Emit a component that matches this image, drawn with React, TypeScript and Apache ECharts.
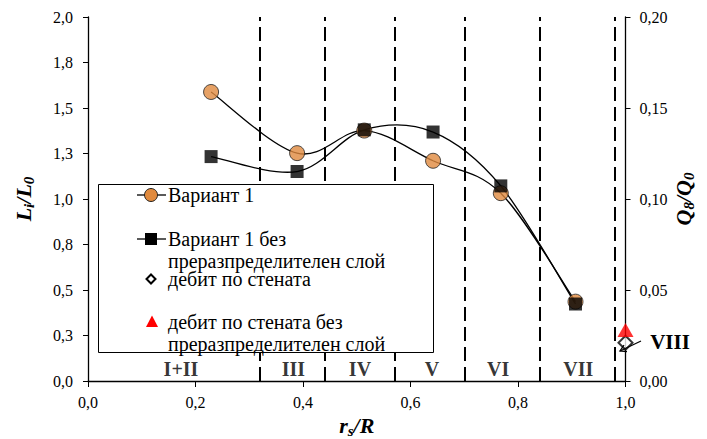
import { useEffect, useRef } from "react";
import * as echarts from "echarts";

// r_s/R positions of the measured sections
const xVariant = [0.229, 0.389, 0.514, 0.642, 0.768, 0.907];
// L_i/L_0 for "Вариант 1"
const yVariant = [1.588, 1.252, 1.376, 1.21, 1.032, 0.436];
// L_i/L_0 for "Вариант 1 без преразпределителен слой"
const yVariantNoLayer = [1.233, 1.151, 1.38, 1.368, 1.072, 0.423];
// Q_8/Q_0 wall flow at r_s/R = 1
const xWall = [1.0];
const qWall = [0.021];
const qWallNoLayer = [0.028];

// zone boundaries (dashed) and zone captions
const zoneBounds = [0.318, 0.443, 0.572, 0.7045, 0.844, 0.977];
const zoneNames = ["I+II", "III", "IV", "V", "VI", "VII"];
const zoneCenters = [0.173, 0.382, 0.506, 0.64, 0.763, 0.912];
const zoneLabelLevel = 0.066;

const xTickLabels = ["0,0", "0,2", "0,4", "0,6", "0,8", "1,0"];
const leftTickLabels = ["0,0", "0,3", "0,5", "0,8", "1,0", "1,3", "1,5", "1,8", "2,0"];
const rightTickLabels = ["0,00", "0,05", "0,10", "0,15", "0,20"];

const seriesNames = [
  "Вариант 1",
  "Вариант 1 без преразпределителен слой",
  "дебит по стената",
  "дебит по стената без преразпределителен слой",
];

const SERIF = "Liberation Serif";
const ORANGE = "#E08A3E";

// Smoothed curve through the points (Catmull-Rom style Bezier segments),
// positioned with the chart's own axis scales via api.coord.
function smoothCurve(name: string, xs: number[], ys: number[], z: number) {
  return {
    name,
    type: "custom",
    coordinateSystem: "cartesian2d",
    silent: true,
    z,
    encode: { x: 0, y: 1 },
    data: xs.slice(0, -1).map((x, i) => [x, ys[i]]),
    renderItem: (params: any, api: any) => {
      const i = params.dataIndex;
      const pt = (k: number) => {
        const j = Math.max(0, Math.min(xs.length - 1, k));
        return api.coord([xs[j], ys[j]]);
      };
      const p0 = pt(i - 1);
      const p1 = pt(i);
      const p2 = pt(i + 1);
      const p3 = pt(i + 2);
      const t = 1 / 6;
      return {
        type: "bezierCurve",
        shape: {
          x1: p1[0],
          y1: p1[1],
          x2: p2[0],
          y2: p2[1],
          cpx1: p1[0] + (p2[0] - p0[0]) * t,
          cpy1: p1[1] + (p2[1] - p0[1]) * t,
          cpx2: p2[0] - (p3[0] - p1[0]) * t,
          cpy2: p2[1] - (p3[1] - p1[1]) * t,
        },
        style: { stroke: "#000", lineWidth: 1.3, fill: null },
      };
    },
  };
}

export default function App() {
  const ref = useRef<HTMLDivElement>(null);

  useEffect(() => {
    if (!ref.current) return;
    const chart = echarts.init(ref.current, undefined, { renderer: "svg" });

    const tickText = { fontFamily: SERIF, fontSize: 16, color: "#000" };
    const nameRich = {
      a: { fontFamily: SERIF, fontSize: 22, fontWeight: "bold", fontStyle: "italic", color: "#000", lineHeight: 26, verticalAlign: "middle" },
      s: { fontFamily: SERIF, fontSize: 15, fontWeight: "bold", fontStyle: "italic", color: "#000", lineHeight: 8, verticalAlign: "bottom" },
    };

    const legendText = (x: number, y: number, text: string) => ({
      type: "text",
      z: 101,
      x,
      y,
      style: { text, fontFamily: SERIF, fontSize: 20, fill: "#000", verticalAlign: "middle", align: "left" },
    });

    const option: any = {
      animation: false,
      grid: { left: 88, right: 81.5, top: 17, bottom: 58, outerBoundsMode: "none", containLabel: false },
      xAxis: {
        type: "value",
        min: 0,
        max: 1,
        interval: 0.2,
        name: "{a|r}{s|s}{a|/R}",
        nameLocation: "middle",
        nameGap: 30,
        nameTextStyle: { rich: nameRich },
        axisLine: { lineStyle: { color: "#000", width: 1.3 } },
        axisTick: { show: true, length: 6, lineStyle: { color: "#000" } },
        axisLabel: { ...tickText, margin: 13, formatter: (v: number) => xTickLabels[Math.round(v / 0.2)] ?? "" },
        splitLine: { show: false },
      },
      yAxis: [
        {
          type: "value",
          min: 0,
          max: 2,
          interval: 0.25,
          name: "{a|L}{s|i}{a|/L}{s|0}",
          nameLocation: "middle",
          nameRotate: 90,
          nameGap: 52,
          nameTextStyle: { rich: nameRich },
          axisLine: { show: true, lineStyle: { color: "#000", width: 1.3 } },
          axisTick: { show: true, length: 5, lineStyle: { color: "#000" } },
          axisLabel: { ...tickText, margin: 15, formatter: (v: number) => leftTickLabels[Math.round(v / 0.25)] ?? "" },
          splitLine: { show: false },
        },
        {
          type: "value",
          min: 0,
          max: 0.2,
          interval: 0.05,
          position: "right",
          name: "{a|Q}{s|8}{a|/Q}{s|0}",
          nameLocation: "middle",
          nameRotate: 90,
          nameGap: 45,
          nameMoveOverlap: false,
          nameTextStyle: { rich: nameRich },
          axisLine: { show: true, lineStyle: { color: "#000", width: 1.3 } },
          axisTick: { show: true, length: 5, lineStyle: { color: "#000" } },
          axisLabel: { ...tickText, margin: 14, formatter: (v: number) => rightTickLabels[Math.round(v / 0.05)] ?? "" },
          splitLine: { show: false },
        },
      ],
      series: [
        {
          name: "zones",
          type: "line",
          data: [],
          silent: true,
          markLine: {
            silent: true,
            symbol: ["none", "none"],
            label: { show: false },
            lineStyle: { color: "#000", width: 2, type: [14, 6] },
            data: zoneBounds.map((x) => ({ xAxis: x })),
          },
        },
        smoothCurve(seriesNames[0] + " curve", xVariant, yVariant, 3),
        smoothCurve(seriesNames[1] + " curve", xVariant, yVariantNoLayer, 3),
        {
          name: seriesNames[0],
          type: "scatter",
          data: xVariant.map((x, i) => [x, yVariant[i]]),
          symbol: "circle",
          symbolSize: 15,
          itemStyle: { color: ORANGE, borderColor: "#222", borderWidth: 1 },
          z: 4,
        },
        {
          name: seriesNames[1],
          type: "scatter",
          data: xVariant.map((x, i) => [x, yVariantNoLayer[i]]),
          symbol: "rect",
          symbolSize: 13,
          itemStyle: { color: "#000" },
          z: 5,
        },
        {
          name: seriesNames[2],
          type: "scatter",
          yAxisIndex: 1,
          clip: false,
          data: xWall.map((x, i) => [x, qWall[i]]),
          symbol: "diamond",
          symbolSize: [14, 14],
          itemStyle: { color: "#fff", borderColor: "#000", borderWidth: 2 },
          z: 5,
        },
        {
          name: seriesNames[3],
          type: "scatter",
          yAxisIndex: 1,
          clip: false,
          data: xWall.map((x, i) => [x, qWallNoLayer[i]]),
          symbol: "triangle",
          symbolSize: [16, 14],
          itemStyle: { color: "#FF0000" },
          z: 6,
        },
        {
          name: "zone labels",
          type: "scatter",
          silent: true,
          data: zoneCenters.map((x) => [x, zoneLabelLevel]),
          symbolSize: 1,
          itemStyle: { color: "rgba(0,0,0,0)" },
          label: {
            show: true,
            position: "inside",
            formatter: (p: any) => zoneNames[p.dataIndex],
            fontFamily: SERIF,
            fontSize: 20,
            fontWeight: "bold",
            color: "#000",
          },
        },
      ],
      graphic: [
        // legend box
        {
          type: "rect",
          z: 100,
          shape: { x: 98.5, y: 184.5, width: 335, height: 168 },
          style: { fill: "#fff", stroke: "#000", lineWidth: 1 },
        },
        { type: "line", z: 101, shape: { x1: 137, y1: 195, x2: 166, y2: 195 }, style: { stroke: "#000", lineWidth: 1.3 } },
        { type: "circle", z: 102, shape: { cx: 151, cy: 195, r: 6.5 }, style: { fill: ORANGE, stroke: "#222", lineWidth: 1 } },
        legendText(168, 195, "Вариант 1"),
        { type: "line", z: 101, shape: { x1: 137, y1: 239, x2: 166, y2: 239 }, style: { stroke: "#000", lineWidth: 1.3 } },
        { type: "rect", z: 102, shape: { x: 145, y: 233, width: 12, height: 12 }, style: { fill: "#000" } },
        legendText(168, 239, "Вариант 1 без"),
        legendText(168, 261, "преразпределителен слой"),
        {
          type: "polygon",
          z: 102,
          shape: { points: [[151, 274.5], [155.5, 279], [151, 283.5], [146.5, 279]] },
          style: { fill: "#fff", stroke: "#000", lineWidth: 2 },
        },
        legendText(168, 279, "дебит по стената"),
        {
          type: "polygon",
          z: 102,
          shape: { points: [[152, 315.5], [158, 327], [146, 327]] },
          style: { fill: "#FF0000" },
        },
        legendText(168, 322, "дебит по стената без"),
        legendText(168, 344, "преразпределителен слой"),
        // zone VIII caption with pointer to the wall markers
        {
          type: "text",
          z: 101,
          x: 670,
          y: 342,
          style: { text: "VIII", fontFamily: SERIF, fontSize: 21, fontWeight: "bold", fill: "#000", align: "center", verticalAlign: "middle" },
        },
        { type: "line", z: 101, shape: { x1: 641, y1: 341, x2: 620, y2: 351 }, style: { stroke: "#000", lineWidth: 1.3 } },
        {
          type: "polyline",
          z: 101,
          shape: { points: [[627, 351.6], [620, 351], [624, 345.2]] },
          style: { stroke: "#000", lineWidth: 1.3, fill: null },
        },
      ],
    };

    chart.setOption(option);
    return () => chart.dispose();
  }, []);

  return <div ref={ref} style={{ position: "fixed", left: 0, top: 0, width: 707, height: 439, background: "#fff" }} />;
}
